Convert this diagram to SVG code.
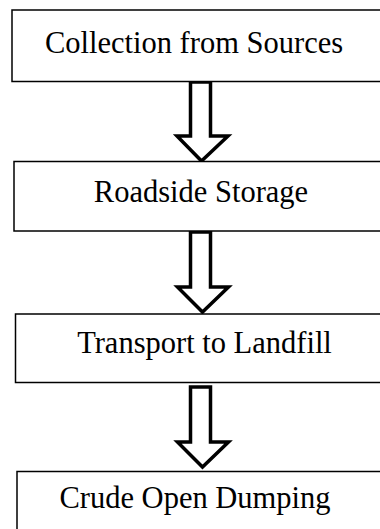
<svg xmlns="http://www.w3.org/2000/svg" width="380" height="529" viewBox="0 0 380 529">
<style>
.box{fill:#fff;stroke:#000;stroke-width:1.5}
.lbl{font-family:"Liberation Serif","Times New Roman",serif;font-size:30.5px;fill:#000;text-anchor:middle}
.arr{fill:#fff;stroke:#000;stroke-width:3.5;stroke-linejoin:miter}
</style>
<rect width="380" height="529" fill="#fff"/>
<g id="connectors">
<path class="arr" d="M190.5,82 H210.5 V136 H228 L201.5,161 L177,136 H190.5 Z"/>
<path class="arr" d="M190.5,232 H210.5 V287 H228.5 L202.5,312 L177.5,287 H190.5 Z"/>
<path class="arr" d="M190.5,387 H210.5 V442 H228.5 L202.5,467 L177.5,442 H190.5 Z"/>
</g>
<g id="n1"><rect class="box" x="12" y="10" width="380" height="71.5"/><text class="lbl" x="194" y="53">Collection from Sources</text></g>
<g id="n2"><rect class="box" x="14" y="161.5" width="380" height="69.5"/><text class="lbl" x="201" y="202">Roadside Storage</text></g>
<g id="n3"><rect class="box" x="15.5" y="314" width="380" height="68.5"/><text class="lbl" x="204.5" y="353">Transport to Landfill</text></g>
<g id="n4"><rect class="box" x="17" y="471.5" width="380" height="80"/><text class="lbl" x="195" y="508">Crude Open Dumping</text></g>
</svg>
